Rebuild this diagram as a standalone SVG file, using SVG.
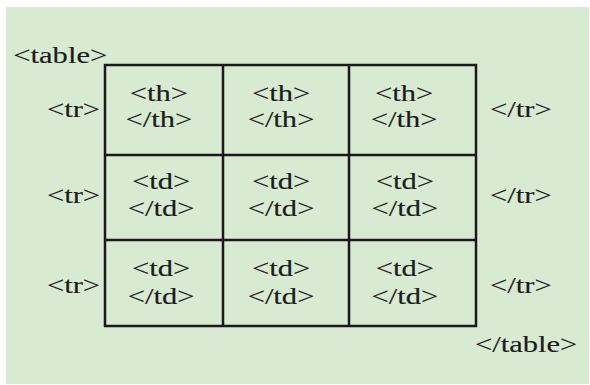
<svg xmlns="http://www.w3.org/2000/svg" width="590" height="385" viewBox="0 0 590 385">
  <style>
    .bg { fill: #d9ead3; }
    .grid { fill: none; stroke: #1a1a1a; stroke-width: 2.5; }
    text { font-family: "Liberation Serif", "Times New Roman", serif; font-size: 23px; fill: #1c1c1c; stroke: #1c1c1c; stroke-width: 0.15; }
    .c { text-anchor: middle; }
  </style>

  <rect width="590" height="385" fill="#ffffff"/>
  <rect class="bg" x="6" y="7" width="583" height="377"/>

  <!-- table frame and cell grid -->
  <g id="grid" class="grid">
    <rect x="105" y="65" width="371" height="261"/>
    <line x1="223" y1="65" x2="223" y2="326"/>
    <line x1="349" y1="65" x2="349" y2="326"/>
    <line x1="105" y1="155" x2="476" y2="155"/>
    <line x1="105" y1="240" x2="476" y2="240"/>
  </g>

  <!-- labels, drawn in a horizontally widened serif (x values are pre-divided by 1.33) -->
  <g transform="scale(1.33 1)">
    <g id="table-open"><text x="10" y="63">&lt;table&gt;</text></g>
    <g id="table-close"><text x="357.1" y="352">&lt;/table&gt;</text></g>

    <g id="row1-tags">
      <text x="35.3" y="117">&lt;tr&gt;</text>
      <text x="368.4" y="117">&lt;/tr&gt;</text>
    </g>
    <g id="row2-tags">
      <text x="35.3" y="203">&lt;tr&gt;</text>
      <text x="368.4" y="203">&lt;/tr&gt;</text>
    </g>
    <g id="row3-tags">
      <text x="35.3" y="293">&lt;tr&gt;</text>
      <text x="368.4" y="293">&lt;/tr&gt;</text>
    </g>

    <g id="cell-1-1" class="c"><text x="119.5" y="101">&lt;th&gt;</text><text x="119.5" y="127">&lt;/th&gt;</text></g>
    <g id="cell-1-2" class="c"><text x="211.3" y="101">&lt;th&gt;</text><text x="211.3" y="127">&lt;/th&gt;</text></g>
    <g id="cell-1-3" class="c"><text x="303.8" y="101">&lt;th&gt;</text><text x="303.8" y="127">&lt;/th&gt;</text></g>

    <g id="cell-2-1" class="c"><text x="121.1" y="189">&lt;td&gt;</text><text x="121.1" y="216">&lt;/td&gt;</text></g>
    <g id="cell-2-2" class="c"><text x="211.3" y="189">&lt;td&gt;</text><text x="211.3" y="216">&lt;/td&gt;</text></g>
    <g id="cell-2-3" class="c"><text x="304.5" y="189">&lt;td&gt;</text><text x="304.5" y="216">&lt;/td&gt;</text></g>

    <g id="cell-3-1" class="c"><text x="121.1" y="276">&lt;td&gt;</text><text x="121.1" y="304">&lt;/td&gt;</text></g>
    <g id="cell-3-2" class="c"><text x="211.3" y="276">&lt;td&gt;</text><text x="211.3" y="304">&lt;/td&gt;</text></g>
    <g id="cell-3-3" class="c"><text x="304.5" y="276">&lt;td&gt;</text><text x="304.5" y="304">&lt;/td&gt;</text></g>
  </g>
</svg>
